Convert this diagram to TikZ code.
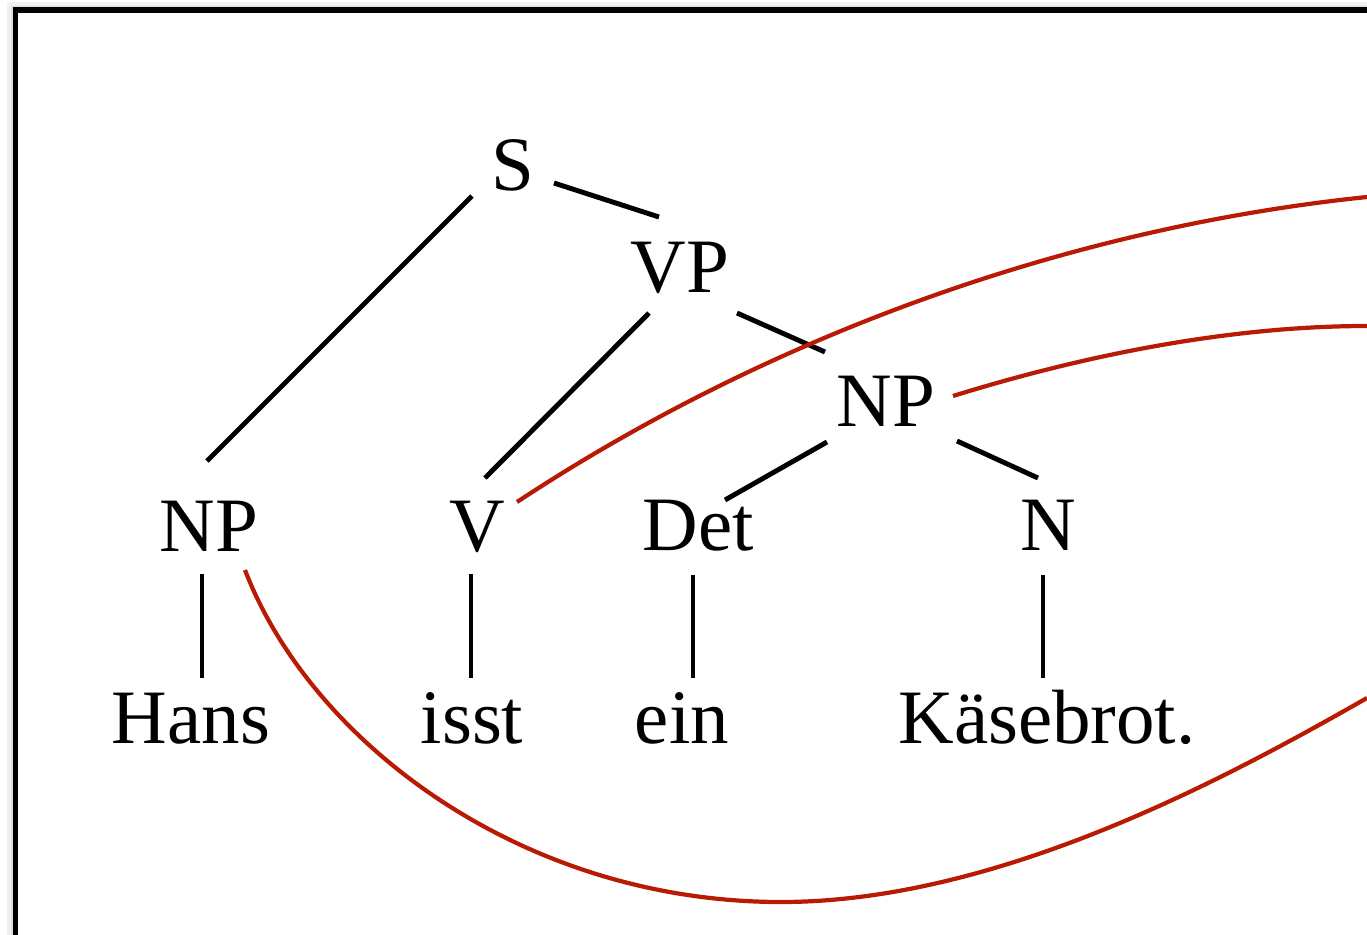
\documentclass[tikz,border=0pt]{standalone}
\usepackage{fontspec}
\setmainfont{Liberation Serif}
\definecolor{linkred}{RGB}{184,26,4}
\begin{document}
\begin{tikzpicture}[x=0.02cm,y=-0.02cm,
  lbl/.style={anchor=base,inner sep=0pt,font=\fontsize{43.8pt}{50pt}\selectfont},
  branch/.style={line width=2.8pt,line cap=butt},
  link/.style={line width=2.4pt,linkred},
  frame/.style={line width=3.1pt,black}]
\useasboundingbox (0,0) rectangle (1367,934);
\clip (0,0) rectangle (1367,934);
% shadow and frame
\draw[gray!12,line width=3pt] (10,940) -- (10,5) -- (1370,5);
\draw[gray!25,line width=2pt] (12.5,940) -- (12.5,7.5) -- (1370,7.5);
\coordinate (fbl) at (15.5,940);
\coordinate (ftl) at (15.5,10);
\coordinate (ftr) at (1372,10);
\draw[frame] (fbl) -- (ftl) -- (ftr);
% nodes
\node[lbl] (S) at (513,190) {S};
\node[lbl] (VP) at (680,292) {VP};
\node[lbl] (NPt) at (886,426) {NP};
\node[lbl] (NPl) at (209,551) {NP};
\node[lbl] (V) at (477,551) {V};
\node[lbl] (Det) at (698,550) {Det};
\node[lbl] (N) at (1048,550) {N};
\node[lbl] (Hans) at (191,743) {Hans};
\node[lbl] (isst) at (472,743) {isst};
\node[lbl] (ein) at (682,743) {ein};
\node[lbl] (kb) at (1047,743) {Käsebrot.};
% branches
\draw[branch] ([shift={(-41,6)}]S.base) -- ([shift={(-2,-90)}]NPl.base);
\draw[branch] ([shift={(41,-7)}]S.base) -- ([shift={(-21,-75)}]VP.base);
\draw[branch] ([shift={(-31,21)}]VP.base) -- ([shift={(8,-73)}]V.base);
\draw[branch] ([shift={(57,21)}]VP.base) -- ([shift={(-61,-74)}]NPt.base);
\draw[branch] ([shift={(-59,16)}]NPt.base) -- ([shift={(27,-50)}]Det.base);
\draw[branch] ([shift={(71,15)}]NPt.base) -- ([shift={(-10,-72)}]N.base);
\draw[branch] ([shift={(-7,23)}]NPl.base) -- ([shift={(11,-65)}]Hans.base);
\draw[branch] ([shift={(-6,23)}]V.base) -- ([shift={(-1,-65)}]isst.base);
\draw[branch] ([shift={(-5,25)}]Det.base) -- ([shift={(11,-65)}]ein.base);
\draw[branch] ([shift={(-5,25)}]N.base) -- ([shift={(-4,-65)}]kb.base);
% red links leaving the picture
\coordinate (e1) at (1367,197);
\coordinate (e2) at (1367,326);
\coordinate (e3) at (1367,698);
\draw[link] ([shift={(40,-49)}]V.base) .. controls (767,337) and (1067,228) .. (e1);
\draw[link] ([shift={(67,-30)}]NPt.base) .. controls (1085,355) and (1230,326) .. (e2);
\draw[link] ([shift={(36,19)}]NPl.base) .. controls (310,740) and (520,902) .. (781,902)
   .. controls (1000,902) and (1230,776) .. (e3);
\end{tikzpicture}
\end{document}
